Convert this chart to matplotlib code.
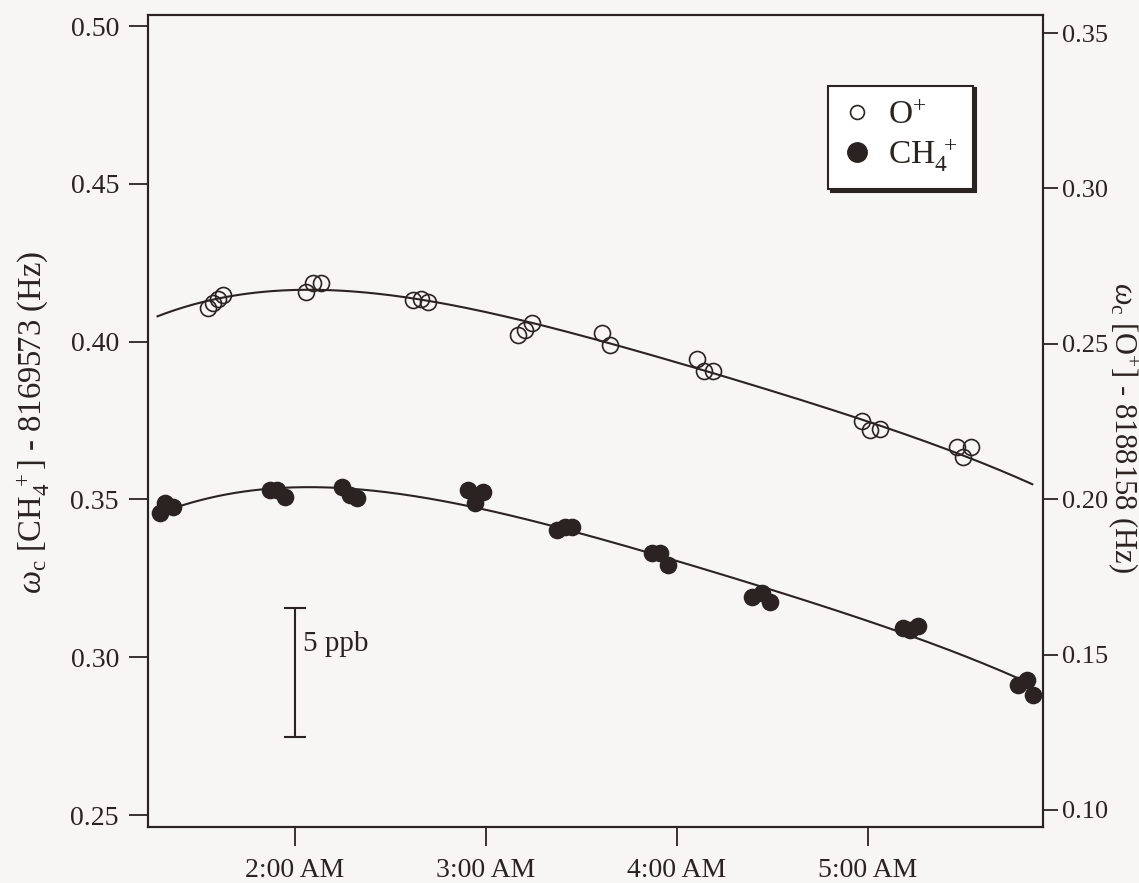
import numpy as np
import matplotlib as mpl
mpl.use('Agg')
import matplotlib.pyplot as plt
from matplotlib.lines import Line2D

plt.rcParams['font.family'] = 'Liberation Serif'
plt.rcParams['mathtext.fontset'] = 'custom'
plt.rcParams['mathtext.rm'] = 'Liberation Serif'
plt.rcParams['mathtext.it'] = 'Liberation Serif:italic'

INK = '#2a2321'
PAPER = '#f7f6f4'

# time in hours after midnight, frequencies offset as on the axes (Hz)
o_time = [1.545, 1.571, 1.597, 1.623, 2.058, 2.094, 2.136, 2.618, 2.660, 2.696,
          3.168, 3.204, 3.241, 3.607, 3.649, 4.105, 4.141, 4.188,
          4.969, 5.010, 5.063, 5.466, 5.497, 5.539]
o_freq = [0.2615, 0.2632, 0.2645, 0.2657, 0.2667, 0.2696, 0.2696, 0.2641, 0.2644, 0.2635,
          0.2529, 0.2545, 0.2567, 0.2535, 0.2497, 0.2451, 0.2413, 0.2413,
          0.2252, 0.2223, 0.2226, 0.2168, 0.2136, 0.2168]

ch4_time = [1.293, 1.319, 1.361, 1.869, 1.906, 1.948, 2.246, 2.288, 2.325,
            2.906, 2.942, 2.984, 3.372, 3.414, 3.450, 3.869, 3.911, 3.953,
            4.393, 4.445, 4.487, 5.183, 5.220, 5.262, 5.785, 5.832, 5.864]
ch4_freq = [0.3457, 0.3489, 0.3476, 0.3530, 0.3530, 0.3508, 0.3540, 0.3514, 0.3505,
            0.3530, 0.3489, 0.3524, 0.3403, 0.3413, 0.3413, 0.3331, 0.3331, 0.3293,
            0.3191, 0.3204, 0.3175, 0.3093, 0.3086, 0.3099, 0.2912, 0.2928, 0.2880]

x_ticks = [2, 3, 4, 5]
x_labels = ['2:00 AM', '3:00 AM', '4:00 AM', '5:00 AM']
left_ticks = [0.25, 0.30, 0.35, 0.40, 0.45, 0.50]
right_ticks = [0.10, 0.15, 0.20, 0.25, 0.30, 0.35]

ch4_center = 8169573.4   # Hz, for the 5 ppb bar
ppb = 5

# joint fit: both ions share one drift polynomial, each with its own offset
deg = 4
tc = np.array(ch4_time) - 3.5
to = np.array(o_time) - 3.5
A = np.vstack([
    np.column_stack([tc ** k for k in range(1, deg + 1)] + [np.ones_like(tc), np.zeros_like(tc)]),
    np.column_stack([to ** k for k in range(1, deg + 1)] + [np.zeros_like(to), np.ones_like(to)]),
])
b = np.concatenate([ch4_freq, o_freq])
coef = np.linalg.lstsq(A, b, rcond=None)[0]

def drift(t, off):
    s = np.asarray(t) - 3.5
    return sum(coef[k - 1] * s ** k for k in range(1, deg + 1)) + off

fig = plt.figure(figsize=(11.39, 8.83), dpi=100, facecolor=PAPER)
ax = fig.add_axes([0.130, 0.0634, 0.7857, 0.9196], facecolor=PAPER)
ax2 = ax.twinx()

t_o = np.linspace(1.28, 5.86, 300)
t_c = np.linspace(1.28, 5.80, 300)
ax.plot(t_c, drift(t_c, coef[deg]), color=INK, lw=1.5)
ax2.plot(t_o, drift(t_o, coef[deg + 1]), color=INK, lw=1.5)

ax.plot(ch4_time, ch4_freq, 'o', ms=11.5, mfc=INK, mec=INK, mew=1.2, ls='none')
ax2.plot(o_time, o_freq, 'o', ms=11.5, mfc='none', mec=INK, mew=1.2, ls='none')

ax.set_xlim(1.2304, 5.916)
ax.set_ylim(0.2462, 0.5035)
ax2.set_ylim(0.0945, 0.3558)

ax.set_xticks(x_ticks)
ax.set_xticklabels(x_labels)
ax.set_yticks(left_ticks)
ax.set_yticklabels(['%.2f' % v for v in left_ticks])
ax2.set_yticks(right_ticks)
ax2.set_yticklabels(['%.2f' % v for v in right_ticks])

ax.tick_params(axis='x', direction='out', length=14, width=1.3, colors=INK, labelsize=20, pad=8)
ax.tick_params(axis='y', direction='out', length=14, width=1.3, colors=INK, labelsize=20, pad=7)
ax2.tick_params(axis='y', direction='out', length=11, width=1.3, colors=INK, labelsize=19, pad=3)
for a in (ax, ax2):
    for s in a.spines.values():
        s.set_color(INK)
        s.set_linewidth(1.5)

fig.text(33 / 1139, 1 - 422 / 883, r'$\omega_{\rm c}$ [CH$_4^{\ +}$] - 8169573 (Hz)',
         rotation=90, ha='center', va='center', fontsize=23.5, color=INK)
fig.text(1123 / 1139, 1 - 428 / 883, r'$\omega_{\rm c}$ [O$^{+}$] - 8188158 (Hz)',
         rotation=270, ha='center', va='center', fontsize=22, color=INK)

# 5 ppb scale bar
bar = ppb * 1e-9 * ch4_center
y0 = 0.2747
ax.errorbar([2.0], [y0 + bar / 2], yerr=[bar / 2], color=INK, capsize=8, elinewidth=1.5, capthick=1.5)
ax.text(2.04, y0 + bar * 0.72, '5 ppb', fontsize=21, color=INK, va='center', ha='left')

handles = [Line2D([], [], marker='o', ls='none', ms=10, mfc='none', mec=INK, mew=1.2),
           Line2D([], [], marker='o', ls='none', ms=14, mfc=INK, mec=INK)]
leg = ax.legend(handles, [r'O$^{+}$', r'CH$_4^{\ +}$'], loc='upper left',
                bbox_to_anchor=(0.760, 0.913), borderaxespad=0, fontsize=24, frameon=True,
                fancybox=False, handlelength=0.8, handletextpad=0.55, borderpad=0.45,
                labelspacing=0.15, shadow={'color': INK, 'alpha': 1.0})
leg.get_frame().set_edgecolor(INK)
leg.get_frame().set_linewidth(1.5)
leg.get_frame().set_facecolor('white')
for t in leg.get_texts():
    t.set_color(INK)

fig.savefig('out.png', dpi=100, facecolor=PAPER)
